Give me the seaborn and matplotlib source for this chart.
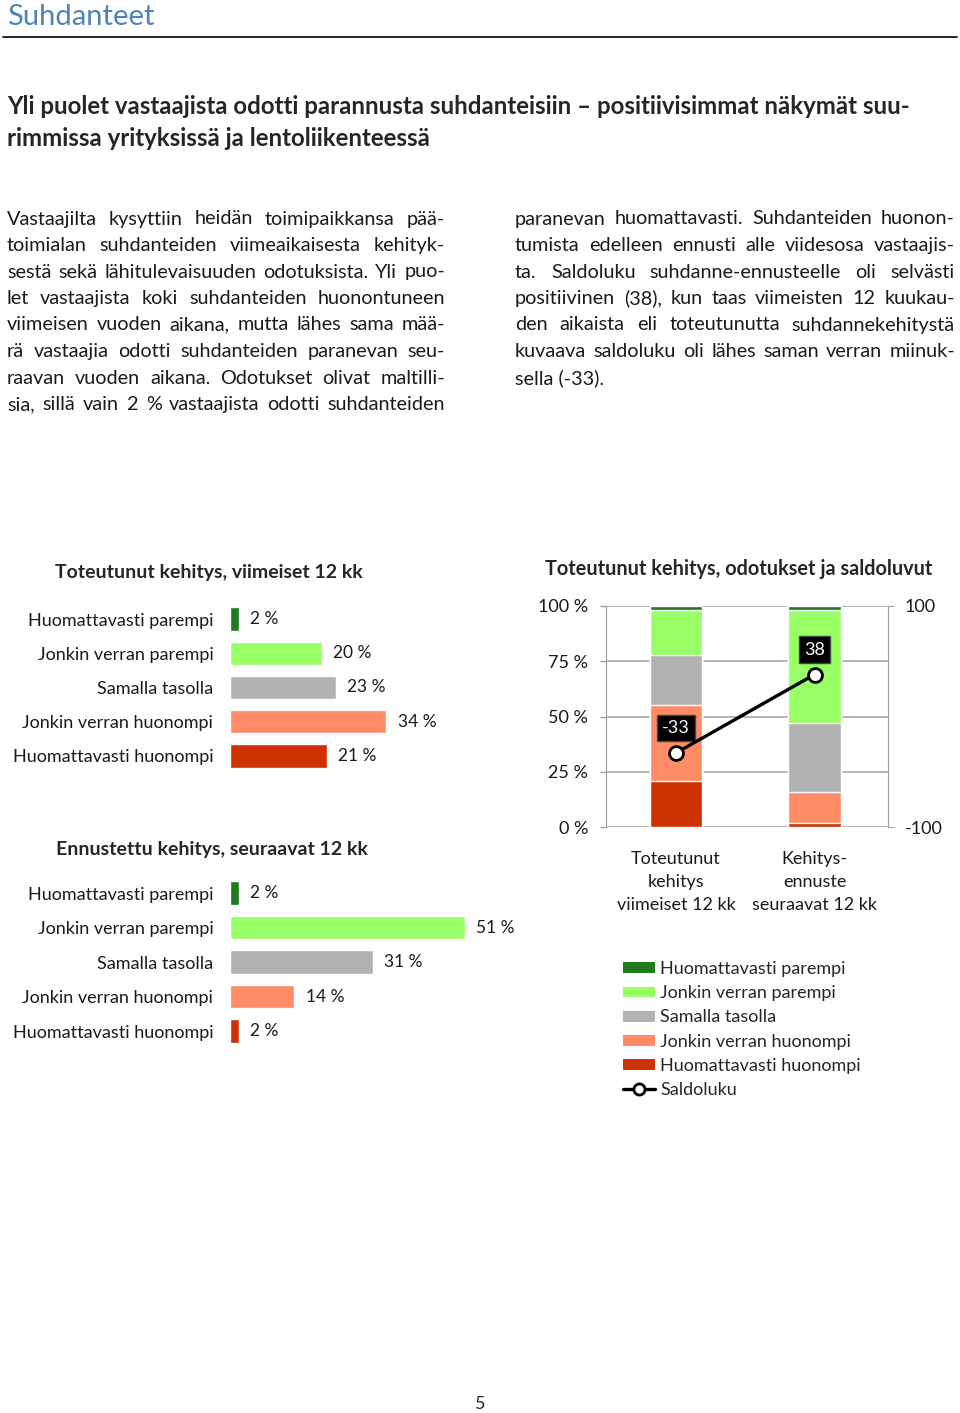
import numpy as np
import pandas as pd
import matplotlib
matplotlib.use("Agg")
import matplotlib.pyplot as plt
from matplotlib.patches import Patch
from matplotlib.lines import Line2D
import seaborn as sns

# data
categories = ["Huomattavasti parempi", "Jonkin verran parempi", "Samalla tasolla",
              "Jonkin verran huonompi", "Huomattavasti huonompi"]
toteutunut = [2, 20, 23, 34, 21]
ennuste = [2, 51, 31, 14, 2]
periods = ["Toteutunut\nkehitys\nviimeiset 12 kk", "Kehitys-\nennuste\nseuraavat 12 kk"]
saldoluku = [-33, 38]
colors = ["#1e7b1e", "#99ff66", "#b2b2b2", "#ff8c66", "#cc3300"]

left_text = [
    "Vastaajilta kysyttiin heidän toimipaikkansa pää-",
    "toimialan suhdanteiden viimeaikaisesta kehityk-",
    "sestä sekä lähitulevaisuuden odotuksista. Yli puo-",
    "let vastaajista koki suhdanteiden huonontuneen",
    "viimeisen vuoden aikana, mutta lähes sama mää-",
    "rä vastaajia odotti suhdanteiden paranevan seu-",
    "raavan vuoden aikana. Odotukset olivat maltilli-",
    "sia, sillä vain 2 % vastaajista odotti suhdanteiden",
]
right_text = [
    "paranevan huomattavasti. Suhdanteiden huonon-",
    "tumista edelleen ennusti alle viidesosa vastaajis-",
    "ta. Saldoluku suhdanne-ennusteelle oli selvästi",
    "positiivinen (38), kun taas viimeisten 12 kuukau-",
    "den aikaista eli toteutunutta suhdannekehitystä",
    "kuvaava saldoluku oli lähes saman verran miinuk-",
    "sella (-33).",
]

sns.set_style("white")
plt.rcParams["font.family"] = ["Lato", "DejaVu Sans"]

W, H = 960, 1413
fig = plt.figure(figsize=(W / 100, H / 100), dpi=100)


def fx(x):
    return x / W


def fy(y):
    return 1 - y / H


def px_axes(l, t, r, b):
    return fig.add_axes([fx(l), fy(b), (r - l) / W, (b - t) / H])


# header
fig.text(fx(7), fy(17), "Suhdanteet", fontsize=21, color="#4f81bd", va="center")
fig.add_artist(Line2D([fx(3), fx(957)], [fy(37), fy(37)], color="black", lw=1.2))
fig.text(fx(7), fy(107), "Yli puolet vastaajista odotti parannusta suhdanteisiin – positiivisimmat näkymät suu-",
         fontsize=17.3, fontweight="bold", va="center")
fig.text(fx(7), fy(138), "rimmissa yrityksissä ja lentoliikenteessä",
         fontsize=17.3, fontweight="bold", va="center")

# justified body text
renderer = fig.canvas.get_renderer()
BODY = 14.3


def justify(lines, x0, x1, y0, dy, last_full=False):
    for i, line in enumerate(lines):
        y = fy(y0 + i * dy)
        if i == len(lines) - 1 and not last_full:
            fig.text(fx(x0), y, line, fontsize=BODY, va="center", color="#1a1a1a")
            continue
        words = line.split(" ")
        ts = [fig.text(0, y, w, fontsize=BODY, va="center", color="#1a1a1a") for w in words]
        widths = [t.get_window_extent(renderer).width for t in ts]
        gap = max((x1 - x0 - sum(widths)) / (len(words) - 1), 3)
        x = x0
        for t, w in zip(ts, widths):
            t.set_x(fx(x))
            x += w + gap


justify(left_text, 7, 445, 219, 26.5, last_full=True)
justify(right_text, 515, 955, 219, 26.5)


# horizontal bar charts
def hbar(ax, values, title, title_y, title_x):
    df = pd.DataFrame({"kategoria": categories, "osuus": values})
    sns.barplot(data=df, x="osuus", y="kategoria", hue="kategoria", palette=colors,
                orient="h", width=0.68, legend=False, saturation=1, ax=ax)
    for c in ax.containers:
        ax.bar_label(c, fmt="{:.0f} %", padding=8, fontsize=12.5, color="#1a1a1a")
    ax.set_xlim(0, 300 / 4.6)
    ax.set_xlabel("")
    ax.set_ylabel("")
    ax.set_xticks([])
    ax.tick_params(axis="y", length=0, pad=12, labelsize=13, labelcolor="#1a1a1a")
    sns.despine(ax=ax, left=True, bottom=True)
    fig.text(fx(title_x), fy(title_y), title, fontsize=14, fontweight="bold",
             ha="center", va="center")


ax1 = px_axes(230, 601.9, 530, 773.1)
hbar(ax1, toteutunut, "Toteutunut kehitys, viimeiset 12 kk", 572, 209)
ax2 = px_axes(230, 875.8, 530, 1048.3)
hbar(ax2, ennuste, "Ennustettu kehitys, seuraavat 12 kk", 849, 212)

# stacked chart: cumulative totals drawn from the top category down
ax3 = px_axes(606, 606, 888, 827)
for i in range(len(categories)):
    tops = [sum(toteutunut[i:]), sum(ennuste[i:])]
    sns.barplot(x=[0, 1], y=tops, color=colors[i], width=0.38, ax=ax3,
                saturation=1, zorder=2)
ax3.set_ylim(0, 100)
ax3.set_xlim(-0.505, 1.53)
ax3.set_yticks([0, 25, 50, 75, 100])
ax3.set_yticklabels(["0 %", "25 %", "50 %", "75 %", "100 %"])
ax3.set_xticks([0, 1])
ax3.set_xticklabels(periods, linespacing=1.55)
ax3.tick_params(axis="x", length=0, pad=17, labelsize=13, labelcolor="#1a1a1a")
ax3.tick_params(axis="y", length=4, width=1, color="#a0a0a0", pad=9, labelsize=13,
                labelcolor="#1a1a1a")
ax3.grid(axis="y", color="#a0a0a0", lw=1.1, zorder=0)
ax3.set_axisbelow(True)
for s in ["top", "bottom"]:
    ax3.spines[s].set_visible(False)
for s in ["left", "right"]:
    ax3.spines[s].set_color("#a0a0a0")
ax3.set_xlabel("")
ax3.set_ylabel("")
fig.text(fx(739), fy(569), "Toteutunut kehitys, odotukset ja saldoluvut", fontsize=14.3,
         fontweight="bold", ha="center", va="center")

ax4 = ax3.twinx()
sns.lineplot(x=[0, 1], y=saldoluku, ax=ax4, color="black", lw=2.4, marker="o",
             markersize=10, markerfacecolor="white", markeredgecolor="black",
             markeredgewidth=2, zorder=5)
ax4.set_ylim(-100, 100)
ax4.set_yticks([-100, 100])
ax4.set_yticklabels(["-100", "100"])
ax4.tick_params(axis="y", length=4, color="#a0a0a0", pad=8, labelsize=13,
                labelcolor="#1a1a1a")
for s in ax4.spines.values():
    s.set_visible(False)
ax4.set_ylabel("")
for xi, v in enumerate(saldoluku):
    ax4.annotate(f"{v}", (xi, v), xytext=(0, 18), textcoords="offset points",
                 ha="center", va="center", color="white", fontsize=13,
                 bbox=dict(boxstyle="square,pad=0.3", fc="black", ec="#444444"))

handles = [Patch(facecolor=c, edgecolor="none") for c in colors]
handles.append(Line2D([], [], color="black", lw=2.4, marker="o", markersize=8,
                      markerfacecolor="white", markeredgewidth=2))
fig.legend(handles, categories + ["Saldoluku"], loc="upper left",
           bbox_to_anchor=(fx(607), fy(945)), frameon=False, fontsize=13,
           handlelength=1.75, handleheight=0.55, handletextpad=0.3, labelspacing=0.45)

fig.text(fx(480), fy(1404), "5", fontsize=13, ha="center", va="center")

fig.savefig("out.png", dpi=100)
